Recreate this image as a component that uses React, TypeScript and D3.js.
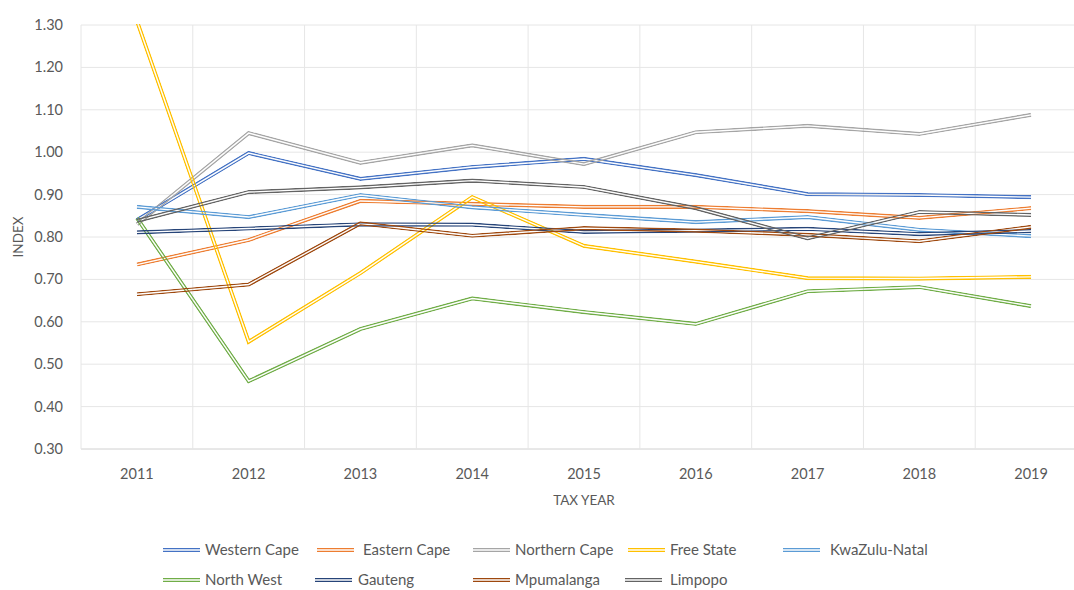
import * as d3 from "d3";

const years = ["2011", "2012", "2013", "2014", "2015", "2016", "2017", "2018", "2019"];
const yTicks = [0.3, 0.4, 0.5, 0.6, 0.7, 0.8, 0.9, 1.0, 1.1, 1.2, 1.3];

const westernCape = [0.84, 0.998, 0.937, 0.965, 0.984, 0.946, 0.901, 0.899, 0.894];
const easternCape = [0.735, 0.793, 0.885, 0.878, 0.871, 0.871, 0.861, 0.845, 0.868];
const northernCape = [0.83, 1.045, 0.975, 1.016, 0.972, 1.047, 1.062, 1.043, 1.088];
const freeState = [1.31, 0.553, 0.715, 0.894, 0.779, 0.742, 0.703, 0.702, 0.706];
const kwaZuluNatal = [0.871, 0.847, 0.899, 0.87, 0.852, 0.835, 0.847, 0.817, 0.802];
const northWest = [0.845, 0.46, 0.583, 0.655, 0.623, 0.595, 0.672, 0.682, 0.637];
const gauteng = [0.811, 0.82, 0.83, 0.829, 0.812, 0.815, 0.819, 0.807, 0.814];
const mpumalanga = [0.665, 0.688, 0.832, 0.803, 0.821, 0.815, 0.805, 0.79, 0.824];
const limpopo = [0.838, 0.906, 0.917, 0.933, 0.918, 0.868, 0.797, 0.859, 0.852];

const series = [
  { name: "Western Cape", color: "#4472C4", values: westernCape },
  { name: "Eastern Cape", color: "#ED7D31", values: easternCape },
  { name: "Northern Cape", color: "#A5A5A5", values: northernCape },
  { name: "Free State", color: "#FFC000", values: freeState },
  { name: "KwaZulu-Natal", color: "#5B9BD5", values: kwaZuluNatal },
  { name: "North West", color: "#70AD47", values: northWest },
  { name: "Gauteng", color: "#264478", values: gauteng },
  { name: "Mpumalanga", color: "#9E480E", values: mpumalanga },
  { name: "Limpopo", color: "#636363", values: limpopo },
];

// legend layout: swatch start x, text x, row
const legendPos = [
  [163, 205, 0], [317, 363, 0], [473, 515, 0], [628, 670, 0], [783, 830, 0],
  [163, 205, 1], [315, 358, 1], [473, 515, 1], [625, 670, 1],
];

const W = 1074;
const H = 590;
const left = 81;
const right = 1087;
const top = 25;
const bottom = 449;
const font = "Lato, 'Open Sans', sans-serif";
const textColor = "#595959";
const outerW = 4.2;
const gapW = 1.4;

export default function App() {
  const x = d3.scaleBand().domain(years).range([left, right]);
  const y = d3.scaleLinear().domain([0.3, 1.3]).range([bottom, top]);
  const line = d3
    .line<number>()
    .x((_, i) => x(years[i])! + x.bandwidth() / 2)
    .y((d) => y(d));

  const gridXs = years.map((yr) => x(yr)!).concat([right]);

  return (
    <svg
      width={W}
      height={H}
      style={{ position: "absolute", left: 0, top: 0, background: "#fff" }}
      fontFamily={font}
    >
      <defs>
        <clipPath id="plot">
          <rect x={left} y={top - 1} width={right - left} height={bottom - top + 2} />
        </clipPath>
        {series.map((s, i) => (
          <mask id={`m${i}`} key={s.name} maskUnits="userSpaceOnUse" x={0} y={0} width={W} height={H}>
            <path d={line(s.values)!} fill="none" stroke="#fff" strokeWidth={outerW} />
            <path d={line(s.values)!} fill="none" stroke="#000" strokeWidth={gapW} />
          </mask>
        ))}
        {series.map((s, i) => {
          const [sx, , row] = legendPos[i];
          const ly = 550 + row * 30;
          return (
            <mask id={`lm${i}`} key={s.name} maskUnits="userSpaceOnUse" x={0} y={0} width={W} height={H}>
              <line x1={sx} x2={sx + 37} y1={ly} y2={ly} stroke="#fff" strokeWidth={outerW} />
              <line x1={sx} x2={sx + 37} y1={ly} y2={ly} stroke="#000" strokeWidth={gapW} />
            </mask>
          );
        })}
      </defs>

      {yTicks.map((t) => (
        <line key={t} x1={left} x2={right} y1={y(t)} y2={y(t)} stroke={t === 0.3 ? "#d0d0d0" : "#e6e6e6"} strokeWidth={1} />
      ))}
      {gridXs.map((gx, i) => (
        <line key={i} x1={gx} x2={gx} y1={top} y2={bottom} stroke="#e6e6e6" strokeWidth={1} />
      ))}

      {yTicks.map((t) => (
        <text key={t} x={63} y={y(t)} dy="0.35em" textAnchor="end" fontSize={14.5} fill={textColor}>
          {t.toFixed(2)}
        </text>
      ))}
      {years.map((yr) => (
        <text key={yr} x={x(yr)! + x.bandwidth() / 2} y={474} dy="0.35em" textAnchor="middle" fontSize={14.5} fill={textColor}>
          {yr}
        </text>
      ))}
      <text x={(left + right) / 2} y={500} dy="0.35em" textAnchor="middle" fontSize={13.5} fill={textColor}>
        TAX YEAR
      </text>
      <text
        transform={`translate(18, ${(top + bottom) / 2}) rotate(-90)`}
        dy="0.35em"
        textAnchor="middle"
        fontSize={13.5}
        fill={textColor}
      >
        INDEX
      </text>

      <g clipPath="url(#plot)">
        {series.map((s, i) => (
          <path key={s.name} d={line(s.values)!} fill="none" stroke={s.color} strokeWidth={outerW} mask={`url(#m${i})`} />
        ))}
      </g>

      {series.map((s, i) => {
        const [sx, tx, row] = legendPos[i];
        const ly = 550 + row * 30;
        return (
          <g key={s.name}>
            <line x1={sx} x2={sx + 37} y1={ly} y2={ly} stroke={s.color} strokeWidth={outerW} mask={`url(#lm${i})`} />
            <text x={tx} y={ly} dy="0.35em" fontSize={15} fill={textColor}>
              {s.name}
            </text>
          </g>
        );
      })}
    </svg>
  );
}
